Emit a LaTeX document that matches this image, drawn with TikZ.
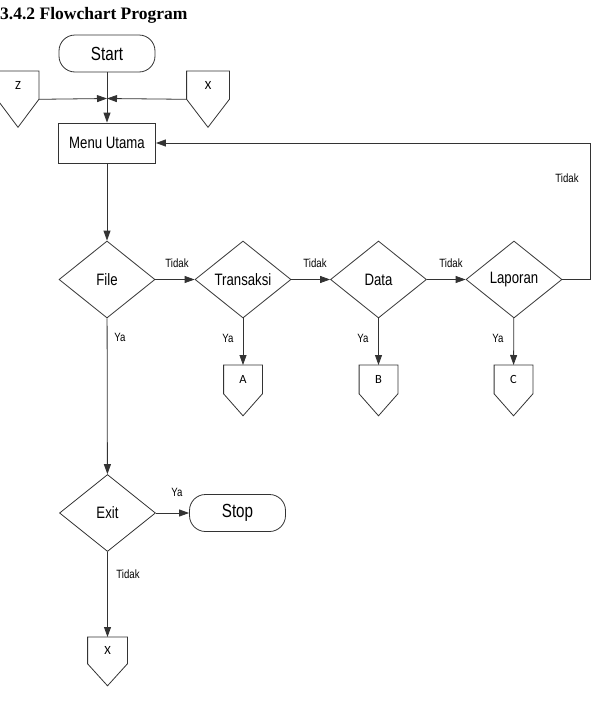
\documentclass[tikz,border=0pt]{standalone}
\usepackage{fontspec}
\setmainfont{Liberation Sans}[FakeStretch=0.8]
\newfontfamily\titlefont{Liberation Serif}
\newfontfamily\connfont{Carlito}
\usetikzlibrary{arrows.meta,shapes.geometric,calc}
\tikzset{
  termbox/.style={draw=black!80, line width=0.8pt, rounded corners=16pt, minimum width=96pt, minimum height=37pt, inner sep=0pt, font=\fontsize{19}{21}\selectfont},
  procbox/.style={draw=black!80, line width=0.8pt, minimum width=97pt, minimum height=40pt, inner sep=0pt, font=\fontsize{16.5}{18}\selectfont},
  decbox/.style={draw=black!80, line width=0.8pt, diamond, minimum width=96pt, minimum height=77pt, inner sep=0pt, font=\fontsize{16.5}{18}\selectfont},
  connbox/.style={minimum width=38pt, minimum height=28pt, inner sep=0pt, text depth=-3pt, font=\connfont\fontsize{12.5}{14}\selectfont,
    append after command={(\tikzlastnode.north west) -- (\tikzlastnode.north east) -- (\tikzlastnode.south east)
      -- ($(\tikzlastnode.south)+(0,#1)$) -- (\tikzlastnode.south west) -- cycle}},
  connbox/.default=22,
  edgeflow/.style={line width=0.8pt, draw=black!80, -{Triangle[length=10pt,width=7pt]}},
  edgeplain/.style={line width=0.8pt, draw=black!80},
  lblnode/.style={inner sep=0pt, font=\fontsize{12}{14}\selectfont}
}

\begin{document}
\begin{tikzpicture}[x=1pt,y=-1pt]
    \useasboundingbox (0,0) rectangle (597,707);
    \node[anchor=base west, inner sep=0pt, font=\titlefont\bfseries\fontsize{17.5}{20}\selectfont] (title) at (0,19) {3.4.2 Flowchart Program};
    % ---------------------
    \draw
    (107,53.5) node[termbox] (start) {Start}
    (107,143) node[procbox] (menu) {Menu Utama}
    (107,279.5) node[decbox] (file) {File}
    (243,279.5) node[decbox] (trans) {Transaksi}
    (378.5,279.5) node[decbox] (data) {Data}
    (514,279.5) node[decbox] (lapor) {Laporan}
    (107.5,513) node[decbox] (exit) {Exit}
    (237.5,513) node[termbox] (stop) {Stop};
    % ---------------------
    \draw[edgeplain]
    (18,71) node[connbox=28, anchor=north, minimum width=41pt, minimum height=27.5pt] (connZ) {Z}
    (208,71) node[connbox=28, anchor=north, minimum width=42pt, minimum height=27.5pt] (connX) {X}
    (243,365) node[connbox, anchor=north] (connA) {A}
    (378.5,365) node[connbox, anchor=north] (connB) {B}
    (513.5,365) node[connbox, anchor=north] (connC) {C}
    (107.5,637) node[connbox, anchor=north, minimum height=26pt, minimum width=39pt] (connXb) {X};
    % ---------------------
    \coordinate (join) at (107,98.5);
    \coordinate (backturn) at (590,143);
    \draw
    (start) edge[edgeflow] (menu)
    (connZ.south east) edge[edgeflow] (join)
    (connX.south west) edge[edgeflow] (join)
    (menu) edge[edgeflow] (file)
    (file) edge[edgeflow] (trans)
    (trans) edge[edgeflow] (data)
    (data) edge[edgeflow] (lapor)
    (trans) edge[edgeflow] (connA)
    (data) edge[edgeflow] (connB)
    (lapor) edge[edgeflow] (connC)
    (file) edge[edgeflow] (exit)
    (exit) edge[edgeflow] (stop)
    (exit) edge[edgeflow] (connXb);
    \draw[edgeflow] (lapor.east) -| (backturn) -- (menu.east);
    % ---------------------
    \draw[every node/.style=lblnode]
    (177,263) node (tidak1) {Tidak}
    (315,263) node (tidak2) {Tidak}
    (451,263) node (tidak3) {Tidak}
    (567,178) node (tidak4) {Tidak}
    (120,337) node (ya1) {Ya}
    (228,338) node (ya2) {Ya}
    (363,338) node (ya3) {Ya}
    (498,338) node (ya4) {Ya}
    (177,492) node (ya5) {Ya}
    (128,574) node (tidak5) {Tidak};
\end{tikzpicture}
\end{document}
